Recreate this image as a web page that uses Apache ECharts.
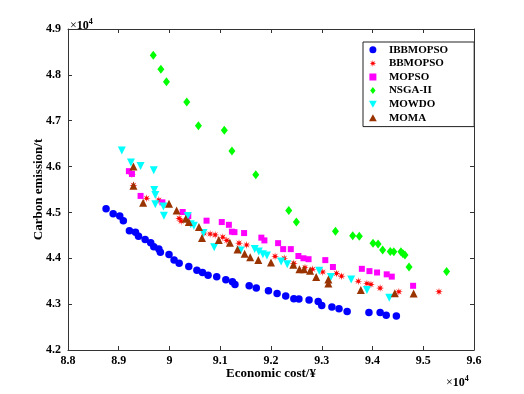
<!DOCTYPE html>
<html><head><meta charset="utf-8">
<script src="https://cdn.jsdelivr.net/npm/echarts@6/dist/echarts.min.js"></script>
<style>html,body{margin:0;padding:0;background:#fff}#c{width:524px;height:394px}</style>
</head><body><div id="c"></div>
<script>
// Economic cost (x1e4), Carbon emission (x1e4)
const xTicks = ['8.8','8.9','9','9.1','9.2','9.3','9.4','9.5','9.6'];
const yTicks = ['4.2','4.3','4.4','4.5','4.6','4.7','4.8','4.9'];
const seriesNames = ['IBBMOPSO','BBMOPSO','MOPSO','NSGA-II','MOWDO','MOMA'];

const ibbmopso = [
 [8.875,4.508],[8.889,4.497],[8.902,4.492],[8.909,4.482],[8.921,4.460],[8.933,4.457],[8.939,4.448],
 [8.952,4.441],[8.963,4.434],[8.969,4.425],[8.979,4.420],[8.982,4.413],[8.999,4.408],[9.009,4.396],
 [9.019,4.389],[9.038,4.382],[9.054,4.374],[9.065,4.369],[9.076,4.363],[9.093,4.360],[9.111,4.353],
 [9.124,4.349],[9.129,4.343],[9.157,4.340],[9.171,4.335],[9.195,4.329],[9.212,4.323],[9.229,4.318],
 [9.245,4.312],[9.255,4.311],[9.275,4.309],[9.293,4.306],[9.300,4.297],[9.320,4.294],[9.334,4.290],
 [9.350,4.284],[9.393,4.282],[9.415,4.282],[9.427,4.276],[9.447,4.274]
];
const bbmopso = [
 [8.926,4.583],[8.929,4.559],[8.955,4.531],[8.979,4.527],[9.019,4.487],[9.023,4.481],[9.068,4.455],
 [9.080,4.453],[9.090,4.451],[9.105,4.446],[9.113,4.439],[9.137,4.433],[9.152,4.429],[9.208,4.404],
 [9.226,4.400],[9.245,4.389],[9.267,4.380],[9.282,4.376],[9.302,4.370],[9.329,4.367],[9.339,4.361],
 [9.372,4.350],[9.389,4.345],[9.397,4.343],[9.415,4.335],[9.452,4.327],[9.531,4.327]
];
const mopso = [
 [8.920,4.590],[8.926,4.584],[8.943,4.536],[8.986,4.522],[9.026,4.501],[9.037,4.492],[9.073,4.482],
 [9.103,4.479],[9.117,4.473],[9.123,4.458],[9.128,4.457],[9.147,4.455],[9.181,4.445],[9.187,4.439],
 [9.214,4.433],[9.224,4.420],[9.239,4.420],[9.254,4.405],[9.264,4.400],[9.274,4.398],[9.307,4.396],
 [9.322,4.381],[9.379,4.377],[9.394,4.372],[9.409,4.369],[9.428,4.365],[9.438,4.360],[9.480,4.340]
];
const nsga2 = [
 [8.968,4.843],[8.983,4.812],[8.994,4.785],[9.034,4.741],[9.057,4.689],[9.108,4.679],[9.123,4.634],
 [9.170,4.582],[9.235,4.504],[9.250,4.479],[9.327,4.459],[9.361,4.449],[9.374,4.448],[9.401,4.433],
 [9.411,4.431],[9.420,4.418],[9.435,4.415],[9.442,4.414],[9.456,4.414],[9.460,4.410],[9.464,4.407],
 [9.472,4.381],[9.546,4.371]
];
const mowdo = [
 [8.906,4.635],[8.924,4.609],[8.943,4.601],[8.969,4.592],[8.970,4.549],[8.972,4.538],[8.972,4.518],
 [8.988,4.513],[8.989,4.493],[9.036,4.492],[9.042,4.474],[9.048,4.471],[9.067,4.455],[9.088,4.424],
 [9.140,4.417],[9.168,4.420],[9.176,4.415],[9.184,4.409],[9.192,4.406],[9.220,4.393],[9.232,4.387],
 [9.295,4.373],[9.318,4.359],[9.358,4.354],[9.389,4.331],[9.433,4.314]
];
const moma = [
 [8.929,4.600],[8.929,4.558],[8.948,4.521],[8.999,4.519],[9.014,4.504],[9.032,4.486],[9.038,4.479],
 [9.058,4.468],[9.064,4.444],[9.097,4.440],[9.119,4.434],[9.134,4.419],[9.148,4.410],[9.159,4.402],
 [9.175,4.396],[9.200,4.391],[9.244,4.386],[9.256,4.376],[9.265,4.376],[9.277,4.373],[9.289,4.359],
 [9.313,4.354],[9.313,4.345],[9.377,4.331],[9.444,4.324],[9.481,4.323]
];

function starPath(n, r1, r2) {
  const pts = [];
  for (let i = 0; i < 2 * n; i++) {
    const a = i * Math.PI / n - Math.PI / 2;
    const r = i % 2 ? r2 : r1;
    pts.push((50 + r * Math.cos(a)).toFixed(2) + ' ' + (50 + r * Math.sin(a)).toFixed(2));
  }
  return 'path://M' + pts.join(' L ') + ' Z';
}
const STAR = starPath(8, 50, 18);
const ICONS = {
  'IBBMOPSO': 'circle',
  'BBMOPSO': STAR,
  'MOPSO': 'path://M0 0 L10 0 L10 10 L0 10 Z',
  'NSGA-II': 'path://M5 0 L10 6.5 L5 13 L0 6.5 Z',
  'MOWDO': 'path://M0 0 L10 0 L5 9 Z',
  'MOMA': 'path://M5 0 L10 9 L0 9 Z'
};

const FONT = 'Liberation Serif';
const AX = '#333';
const chart = echarts.init(document.getElementById('c'), null, {renderer: 'canvas'});

const baseAxis = {
  axisLine: {show: true, lineStyle: {color: AX, width: 1}},
  axisTick: {show: true, inside: true, length: 4, lineStyle: {color: AX}},
  splitLine: {show: false}
};
const sup = {
  a: {fontFamily: FONT, fontSize: 12, fill: '#000', verticalAlign: 'bottom'},
  b: {fontFamily: FONT, fontSize: 12, fontWeight: 'bold', fill: '#000', verticalAlign: 'bottom'},
  c: {fontFamily: FONT, fontSize: 8, fontWeight: 'bold', fill: '#000', verticalAlign: 'top', padding: [0, 0, 6, 0]}
};

chart.setOption({
  backgroundColor: '#fff',
  animation: false,
  grid: {left: 68, right: 50, top: 29, bottom: 44},
  legend: {
    orient: 'vertical', left: 363, top: 42,
    data: seriesNames.map(n => ({name: n, icon: ICONS[n]})),
    backgroundColor: '#fff', borderColor: '#222', borderWidth: 1,
    padding: [1, 26, 2, 6],
    itemWidth: 22, itemHeight: 7, itemGap: 0,
    textStyle: {fontFamily: FONT, fontWeight: 'bold', fontSize: 11, color: '#000', lineHeight: 13.6}
  },
  xAxis: [
    Object.assign({}, baseAxis, {
      type: 'value', position: 'bottom', min: 8.8, max: 9.6, interval: 0.1,
      axisLabel: {fontFamily: FONT, fontWeight: 'bold', fontSize: 12, color: '#000', margin: 5,
        formatter: function (v) { const i = Math.round((v - 8.8) * 10); return xTicks[i] || ''; }},
      name: 'Economic cost/\u00a5', nameLocation: 'middle', nameGap: 17, nameMoveOverlap: false,
      nameTextStyle: {fontFamily: FONT, fontWeight: 'bold', fontSize: 13, color: '#000'}
    }),
    Object.assign({}, baseAxis, {
      type: 'value', position: 'top', min: 8.8, max: 9.6, interval: 0.1,
      axisLabel: {show: false}
    })
  ],
  yAxis: [
    Object.assign({}, baseAxis, {
      type: 'value', position: 'left', min: 4.2, max: 4.9, interval: 0.1,
      axisLabel: {fontFamily: FONT, fontWeight: 'bold', fontSize: 12, color: '#000', margin: 7,
        formatter: function (v) { const i = Math.round((v - 4.2) * 10); return yTicks[i] || ''; }},
      name: 'Carbon emission/t', nameLocation: 'middle', nameGap: 23, nameMoveOverlap: false,
      nameTextStyle: {fontFamily: FONT, fontWeight: 'bold', fontSize: 13, color: '#000'}
    }),
    Object.assign({}, baseAxis, {
      type: 'value', position: 'right', min: 4.2, max: 4.9, interval: 0.1,
      axisLabel: {show: false}
    })
  ],
  series: [
    {name: 'IBBMOPSO', type: 'scatter', data: ibbmopso, symbol: 'circle', symbolSize: 7.5,
     itemStyle: {color: '#0000FF', opacity: 1}},
    {name: 'BBMOPSO', type: 'scatter', data: bbmopso, symbol: STAR, symbolSize: 8,
     itemStyle: {color: '#FF0000', opacity: 1}},
    {name: 'MOPSO', type: 'scatter', data: mopso, symbol: 'rect', symbolSize: 6,
     itemStyle: {color: '#FF00FF', opacity: 1}},
    {name: 'NSGA-II', type: 'scatter', data: nsga2, symbol: 'diamond', symbolSize: [7, 9],
     itemStyle: {color: '#00FF00', opacity: 1}},
    {name: 'MOWDO', type: 'scatter', data: mowdo, symbol: 'triangle', symbolRotate: 180, symbolSize: 8,
     itemStyle: {color: '#00FFFF', opacity: 1}},
    {name: 'MOMA', type: 'scatter', data: moma, symbol: 'triangle', symbolSize: 8,
     itemStyle: {color: '#993300', opacity: 1}}
  ],
  graphic: [
    {type: 'text', left: 70, top: 18, style: {text: '{a|\u00d7}{b|10}{c|4}', rich: sup}},
    {type: 'text', left: 446, top: 375, style: {text: '{a|\u00d7}{b|10}{c|4}', rich: sup}}
  ]
});
</script>
</body></html>
